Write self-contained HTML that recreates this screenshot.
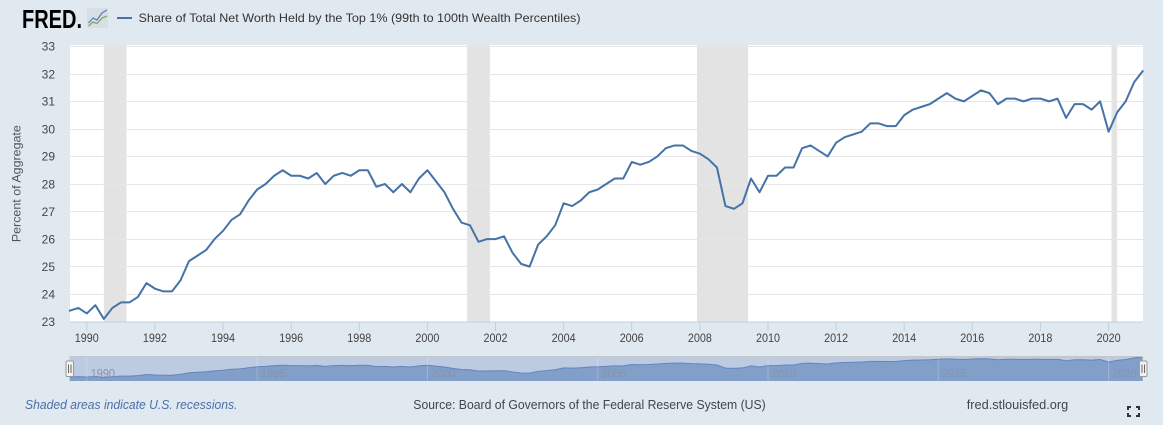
<!DOCTYPE html>
<html>
<head>
<meta charset="utf-8">
<style>
html,body{margin:0;padding:0;background:#e1e9f0;}
svg{display:block;}
text{font-family:"Liberation Sans",sans-serif;}
</style>
</head>
<body>
<svg width="1163" height="425" viewBox="0 0 1163 425" xmlns="http://www.w3.org/2000/svg">
<rect x="0" y="0" width="1163" height="425" fill="#e1e9f0"/>

<!-- Header -->
<text x="22" y="28" font-size="26" font-weight="bold" fill="#000" textLength="60" lengthAdjust="spacingAndGlyphs">FRED.</text>
<rect x="87" y="8" width="21" height="20" rx="1" fill="#d9dee4"/>
<polyline points="88.5,26 93,22 97,23.5 102,18 107,16" fill="none" stroke="#7cae5a" stroke-width="1.3"/>
<polyline points="88.5,23 93,18 97,20 102,13 107,10" fill="none" stroke="#5a84c0" stroke-width="1.3"/>
<line x1="117" y1="18" x2="132" y2="18" stroke="#4572a7" stroke-width="2"/>
<text x="138.5" y="22" font-size="12" fill="#333" textLength="442" lengthAdjust="spacingAndGlyphs">Share of Total Net Worth Held by the Top 1% (99th to 100th Wealth Percentiles)</text>

<!-- Plot area -->
<rect x="70" y="45" width="1073" height="277" fill="#ffffff"/>
<!-- Recessions -->
<g fill="#e3e3e3">
<rect x="103.9" y="45" width="22.6" height="277"/>
<rect x="467.1" y="45" width="22.8" height="277"/>
<rect x="697.0" y="45" width="51.1" height="277"/>
<rect x="1111.5" y="45" width="5.6" height="277"/>
</g>
<!-- Gridlines -->
<g stroke="#e6e6e6" stroke-width="1">
<line x1="70" x2="1143" y1="46.5" y2="46.5"/>
<line x1="70" x2="1143" y1="74.5" y2="74.5"/>
<line x1="70" x2="1143" y1="101.5" y2="101.5"/>
<line x1="70" x2="1143" y1="129.5" y2="129.5"/>
<line x1="70" x2="1143" y1="156.5" y2="156.5"/>
<line x1="70" x2="1143" y1="184.5" y2="184.5"/>
<line x1="70" x2="1143" y1="211.5" y2="211.5"/>
<line x1="70" x2="1143" y1="239.5" y2="239.5"/>
<line x1="70" x2="1143" y1="266.5" y2="266.5"/>
<line x1="70" x2="1143" y1="294.5" y2="294.5"/>
</g>
<!-- X axis -->
<line x1="70" x2="1143" y1="322" y2="322" stroke="#c0d0e0" stroke-width="1"/>
<g stroke="#c0d0e0" stroke-width="1">
<line x1="86.8" x2="86.8" y1="322" y2="331"/>
<line x1="154.9" x2="154.9" y1="322" y2="331"/>
<line x1="223.0" x2="223.0" y1="322" y2="331"/>
<line x1="291.2" x2="291.2" y1="322" y2="331"/>
<line x1="359.3" x2="359.3" y1="322" y2="331"/>
<line x1="427.4" x2="427.4" y1="322" y2="331"/>
<line x1="495.5" x2="495.5" y1="322" y2="331"/>
<line x1="563.6" x2="563.6" y1="322" y2="331"/>
<line x1="631.7" x2="631.7" y1="322" y2="331"/>
<line x1="699.9" x2="699.9" y1="322" y2="331"/>
<line x1="768.0" x2="768.0" y1="322" y2="331"/>
<line x1="836.1" x2="836.1" y1="322" y2="331"/>
<line x1="904.2" x2="904.2" y1="322" y2="331"/>
<line x1="972.3" x2="972.3" y1="322" y2="331"/>
<line x1="1040.4" x2="1040.4" y1="322" y2="331"/>
<line x1="1108.6" x2="1108.6" y1="322" y2="331"/>
</g>
<g font-size="12" fill="#444" text-anchor="middle">
<text x="86.8" y="342" textLength="24" lengthAdjust="spacingAndGlyphs">1990</text>
<text x="154.9" y="342" textLength="24" lengthAdjust="spacingAndGlyphs">1992</text>
<text x="223.0" y="342" textLength="24" lengthAdjust="spacingAndGlyphs">1994</text>
<text x="291.2" y="342" textLength="24" lengthAdjust="spacingAndGlyphs">1996</text>
<text x="359.3" y="342" textLength="24" lengthAdjust="spacingAndGlyphs">1998</text>
<text x="427.4" y="342" textLength="24" lengthAdjust="spacingAndGlyphs">2000</text>
<text x="495.5" y="342" textLength="24" lengthAdjust="spacingAndGlyphs">2002</text>
<text x="563.6" y="342" textLength="24" lengthAdjust="spacingAndGlyphs">2004</text>
<text x="631.7" y="342" textLength="24" lengthAdjust="spacingAndGlyphs">2006</text>
<text x="699.9" y="342" textLength="24" lengthAdjust="spacingAndGlyphs">2008</text>
<text x="768.0" y="342" textLength="24" lengthAdjust="spacingAndGlyphs">2010</text>
<text x="836.1" y="342" textLength="24" lengthAdjust="spacingAndGlyphs">2012</text>
<text x="904.2" y="342" textLength="24" lengthAdjust="spacingAndGlyphs">2014</text>
<text x="972.3" y="342" textLength="24" lengthAdjust="spacingAndGlyphs">2016</text>
<text x="1040.4" y="342" textLength="24" lengthAdjust="spacingAndGlyphs">2018</text>
<text x="1108.6" y="342" textLength="24" lengthAdjust="spacingAndGlyphs">2020</text>
</g>
<!-- Y axis labels -->
<g font-size="12" fill="#444" text-anchor="end">
<text x="55" y="50.5">33</text>
<text x="55" y="78.3">32</text>
<text x="55" y="105.5">31</text>
<text x="55" y="133.3">30</text>
<text x="55" y="160.7">29</text>
<text x="55" y="188.3">28</text>
<text x="55" y="215.8">27</text>
<text x="55" y="243.3">26</text>
<text x="55" y="270.8">25</text>
<text x="55" y="298.3">24</text>
<text x="55" y="325.8">23</text>
</g>
<text transform="translate(20.5,183.7) rotate(-90)" font-size="12" fill="#555" text-anchor="middle" textLength="117" lengthAdjust="spacingAndGlyphs">Percent of Aggregate</text>

<!-- Series -->
<g transform="matrix(8.515 0 0 -27.54 69.8 955.12)">
<polyline fill="none" stroke="#4572a7" stroke-width="2" stroke-linejoin="round" stroke-linecap="round" vector-effect="non-scaling-stroke" points="0,23.4 1,23.5 2,23.3 3,23.6 4,23.1 5,23.5 6,23.7 7,23.7 8,23.9 9,24.4 10,24.2 11,24.1 12,24.1 13,24.5 14,25.2 15,25.4 16,25.6 17,26.0 18,26.3 19,26.7 20,26.9 21,27.4 22,27.8 23,28.0 24,28.3 25,28.5 26,28.3 27,28.3 28,28.2 29,28.4 30,28.0 31,28.3 32,28.4 33,28.3 34,28.5 35,28.5 36,27.9 37,28.0 38,27.7 39,28.0 40,27.7 41,28.2 42,28.5 43,28.1 44,27.7 45,27.1 46,26.6 47,26.5 48,25.9 49,26.0 50,26.0 51,26.1 52,25.5 53,25.1 54,25.0 55,25.8 56,26.1 57,26.5 58,27.3 59,27.2 60,27.4 61,27.7 62,27.8 63,28.0 64,28.2 65,28.2 66,28.8 67,28.7 68,28.8 69,29.0 70,29.3 71,29.4 72,29.4 73,29.2 74,29.1 75,28.9 76,28.6 77,27.2 78,27.1 79,27.3 80,28.2 81,27.7 82,28.3 83,28.3 84,28.6 85,28.6 86,29.3 87,29.4 88,29.2 89,29.0 90,29.5 91,29.7 92,29.8 93,29.9 94,30.2 95,30.2 96,30.1 97,30.1 98,30.5 99,30.7 100,30.8 101,30.9 102,31.1 103,31.3 104,31.1 105,31.0 106,31.2 107,31.4 108,31.3 109,30.9 110,31.1 111,31.1 112,31.0 113,31.1 114,31.1 115,31.0 116,31.1 117,30.4 118,30.9 119,30.9 120,30.7 121,31.0 122,29.9 123,30.6 124,31.0 125,31.7 126,32.1"/>
</g>

<!-- Navigator -->
<rect x="69.5" y="356.5" width="1073" height="24.5" fill="#bccbe2"/>
<g transform="matrix(8.515 0 0 -2.278 69.8 430.12)">
<polygon fill="#819fc9" stroke="none" points="0,21.563 0,23.4 1,23.5 2,23.3 3,23.6 4,23.1 5,23.5 6,23.7 7,23.7 8,23.9 9,24.4 10,24.2 11,24.1 12,24.1 13,24.5 14,25.2 15,25.4 16,25.6 17,26.0 18,26.3 19,26.7 20,26.9 21,27.4 22,27.8 23,28.0 24,28.3 25,28.5 26,28.3 27,28.3 28,28.2 29,28.4 30,28.0 31,28.3 32,28.4 33,28.3 34,28.5 35,28.5 36,27.9 37,28.0 38,27.7 39,28.0 40,27.7 41,28.2 42,28.5 43,28.1 44,27.7 45,27.1 46,26.6 47,26.5 48,25.9 49,26.0 50,26.0 51,26.1 52,25.5 53,25.1 54,25.0 55,25.8 56,26.1 57,26.5 58,27.3 59,27.2 60,27.4 61,27.7 62,27.8 63,28.0 64,28.2 65,28.2 66,28.8 67,28.7 68,28.8 69,29.0 70,29.3 71,29.4 72,29.4 73,29.2 74,29.1 75,28.9 76,28.6 77,27.2 78,27.1 79,27.3 80,28.2 81,27.7 82,28.3 83,28.3 84,28.6 85,28.6 86,29.3 87,29.4 88,29.2 89,29.0 90,29.5 91,29.7 92,29.8 93,29.9 94,30.2 95,30.2 96,30.1 97,30.1 98,30.5 99,30.7 100,30.8 101,30.9 102,31.1 103,31.3 104,31.1 105,31.0 106,31.2 107,31.4 108,31.3 109,30.9 110,31.1 111,31.1 112,31.0 113,31.1 114,31.1 115,31.0 116,31.1 117,30.4 118,30.9 119,30.9 120,30.7 121,31.0 122,29.9 123,30.6 124,31.0 125,31.7 126,32.1 126,21.563"/>
<polyline fill="none" stroke="#6685bb" stroke-width="1" vector-effect="non-scaling-stroke" points="0,23.4 1,23.5 2,23.3 3,23.6 4,23.1 5,23.5 6,23.7 7,23.7 8,23.9 9,24.4 10,24.2 11,24.1 12,24.1 13,24.5 14,25.2 15,25.4 16,25.6 17,26.0 18,26.3 19,26.7 20,26.9 21,27.4 22,27.8 23,28.0 24,28.3 25,28.5 26,28.3 27,28.3 28,28.2 29,28.4 30,28.0 31,28.3 32,28.4 33,28.3 34,28.5 35,28.5 36,27.9 37,28.0 38,27.7 39,28.0 40,27.7 41,28.2 42,28.5 43,28.1 44,27.7 45,27.1 46,26.6 47,26.5 48,25.9 49,26.0 50,26.0 51,26.1 52,25.5 53,25.1 54,25.0 55,25.8 56,26.1 57,26.5 58,27.3 59,27.2 60,27.4 61,27.7 62,27.8 63,28.0 64,28.2 65,28.2 66,28.8 67,28.7 68,28.8 69,29.0 70,29.3 71,29.4 72,29.4 73,29.2 74,29.1 75,28.9 76,28.6 77,27.2 78,27.1 79,27.3 80,28.2 81,27.7 82,28.3 83,28.3 84,28.6 85,28.6 86,29.3 87,29.4 88,29.2 89,29.0 90,29.5 91,29.7 92,29.8 93,29.9 94,30.2 95,30.2 96,30.1 97,30.1 98,30.5 99,30.7 100,30.8 101,30.9 102,31.1 103,31.3 104,31.1 105,31.0 106,31.2 107,31.4 108,31.3 109,30.9 110,31.1 111,31.1 112,31.0 113,31.1 114,31.1 115,31.0 116,31.1 117,30.4 118,30.9 119,30.9 120,30.7 121,31.0 122,29.9 123,30.6 124,31.0 125,31.7 126,32.1"/>
</g>
<g stroke="#ffffff" stroke-opacity="0.22" stroke-width="1">
<line x1="86.8" x2="86.8" y1="357" y2="381"/>
<line x1="257.1" x2="257.1" y1="357" y2="381"/>
<line x1="427.4" x2="427.4" y1="357" y2="381"/>
<line x1="597.7" x2="597.7" y1="357" y2="381"/>
<line x1="768.0" x2="768.0" y1="357" y2="381"/>
<line x1="938.3" x2="938.3" y1="357" y2="381"/>
<line x1="1108.6" x2="1108.6" y1="357" y2="381"/>
</g>
<g font-size="12" fill="#8794ab">
<text x="90.7" y="377.3" textLength="24.3" lengthAdjust="spacingAndGlyphs">1990</text>
<text x="261.0" y="377.3" textLength="24.3" lengthAdjust="spacingAndGlyphs">1995</text>
<text x="431.0" y="377.3" textLength="24.3" lengthAdjust="spacingAndGlyphs">2000</text>
<text x="601.5" y="377.3" textLength="24.3" lengthAdjust="spacingAndGlyphs">2005</text>
<text x="771.8" y="377.3" textLength="24.3" lengthAdjust="spacingAndGlyphs">2010</text>
<text x="942.1" y="377.3" textLength="24.3" lengthAdjust="spacingAndGlyphs">2015</text>
<text x="1112.4" y="377.3" textLength="24.3" lengthAdjust="spacingAndGlyphs">2020</text>
</g>
<line x1="69.5" x2="1142.5" y1="356.5" y2="356.5" stroke="#c3c7cd" stroke-width="1"/>
<!-- Handles -->
<rect x="66" y="361" width="7.5" height="15.5" rx="1" fill="#f2f2f2" stroke="#999" stroke-width="1"/>
<line x1="68.5" x2="68.5" y1="364.5" y2="373" stroke="#666" stroke-width="1"/>
<line x1="71" x2="71" y1="364.5" y2="373" stroke="#666" stroke-width="1"/>
<rect x="1139.5" y="361" width="7.5" height="15.5" rx="1" fill="#f2f2f2" stroke="#999" stroke-width="1"/>
<line x1="1142" x2="1142" y1="364.5" y2="373" stroke="#666" stroke-width="1"/>
<line x1="1144.5" x2="1144.5" y1="364.5" y2="373" stroke="#666" stroke-width="1"/>

<!-- Footer -->
<text x="25" y="409" font-size="13" font-style="italic" fill="#4a6fa8" textLength="212.5" lengthAdjust="spacingAndGlyphs">Shaded areas indicate U.S. recessions.</text>
<text x="413.3" y="409" font-size="13" fill="#444" textLength="352.4" lengthAdjust="spacingAndGlyphs">Source: Board of Governors of the Federal Reserve System (US)</text>
<text x="966.7" y="409" font-size="13" fill="#444" textLength="101.6" lengthAdjust="spacingAndGlyphs">fred.stlouisfed.org</text>
<!-- Fullscreen icon -->
<g fill="none" stroke="#333" stroke-width="2">
<polyline points="1128,410 1128,407 1131,407"/>
<polyline points="1136,407 1139,407 1139,410"/>
<polyline points="1128,413 1128,416 1131,416"/>
<polyline points="1136,416 1139,416 1139,413"/>
</g>
</svg>
</body>
</html>
